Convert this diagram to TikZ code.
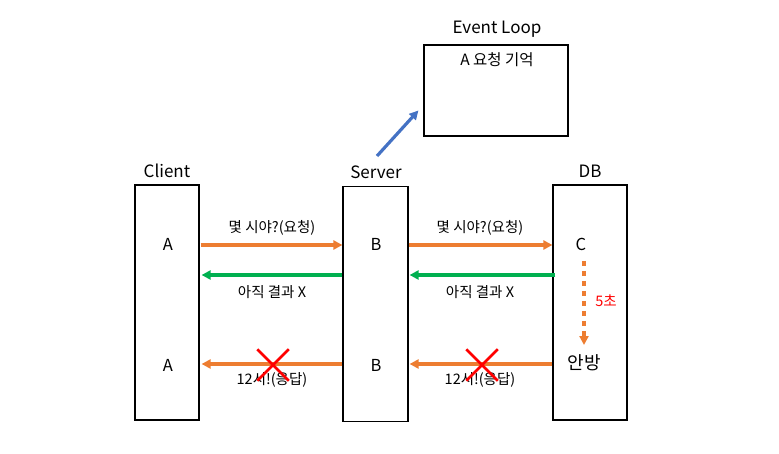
\documentclass[tikz,border=0pt]{standalone}
\usepackage{fontspec}
\setmainfont{Noto Sans CJK KR}
\usepackage{tikz}
\usetikzlibrary{arrows.meta, positioning, shapes.misc}
\definecolor{reqorange}{HTML}{ED7D31}
\definecolor{ansgreen}{HTML}{00B050}
\definecolor{loopblue}{HTML}{4472C4}

\begin{document}
\begin{tikzpicture}[
	x=1pt, y=-1pt,
	font=\fontsize{14.5}{17}\selectfont,
	lane/.style={draw, line width=1.2pt, minimum width=65pt, minimum height=235pt, inner sep=0pt},
	loopbox/.style={draw, line width=1.2pt, minimum width=144pt, minimum height=91pt, inner sep=0pt},
	title/.style={font=\fontsize{17}{20}\selectfont},
	item/.style={font=\fontsize{16.5}{19}\selectfont},
	msg/.style={font=\fontsize{14.5}{17}\selectfont},
	request/.style={-{Triangle[length=9pt, width=9pt]}, line width=3.2pt, reqorange},
	answer/.style={-{Triangle[length=9pt, width=9pt]}, line width=3.2pt, ansgreen},
	wait/.style={-{Triangle[length=9pt, width=9pt]}, line width=3.2pt, reqorange, dash pattern=on 5pt off 5pt},
	fail/.style={cross out, draw=red, line width=2.5pt, minimum width=29pt, minimum height=29pt, inner sep=0pt}
]
\useasboundingbox (0,0) rectangle (779,454);

% boxes
\node[lane, minimum width=64pt] (client) at (167,302.5) {};
\node[lane] (server) at (375.5,304) {};
\node[lane, minimum width=74pt] (db) at (590,302.5) {};
\node[loopbox] (loop) at (496,90.5) {};

% titles
\node[title] (clienttitle) at (167,171) {Client};
\node[title] (servertitle) at (376,172) {Server};
\node[title] (dbtitle) at (590,171) {DB};
\node[title] (looptitle) at (497,29) {Event Loop};
\node[font=\fontsize{15.5}{18}\selectfont] (memo) at (497,60) {A 요청 기억};

% items in the lanes
\node[item] (a1) at (168,244) {A};
\node[item] (b1) at (376,244) {B};
\node[item] (c1) at (581,244) {C};
\node[item] (a2) at (168,365) {A};
\node[item] (b2) at (376,365) {B};
\node[font=\fontsize{18}{21}\selectfont] (room) at (584,363) {안방};

% request
\draw[request] ([xshift=1pt]client.east |- 0,245) -- (server.west |- 0,245);
\draw[request] (server.east |- 0,245) -- (db.west |- 0,245);
\node[msg] (ask1) at (272,228) {몇 시야?(요청)};
\node[msg] (ask2) at (480,228) {몇 시야?(요청)};

% not yet
\draw[answer] (server.west |- 0,275) -- ([xshift=2pt]client.east |- 0,275);
\draw[answer] ([xshift=3pt]db.west |- 0,275) -- ([xshift=1pt]server.east |- 0,275);
\node[msg] (wait1) at (272,292) {아직 결과 X};
\node[msg] (wait2) at (480,292) {아직 결과 X};

% DB takes 5 s
\draw[wait] (room.north |- 0,261) -- (room.north |- 0,345);
\node[msg, text=red] (delay) at (606,301) {5초};

% response, lost
\draw[request] (server.west |- 0,364) -- ([xshift=2pt]client.east |- 0,364);
\draw[request] (db.west |- 0,364) -- ([xshift=1pt]server.east |- 0,364);
\node[msg] (reply1) at (272,380) {12시!(응답)};
\node[msg] (reply2) at (480,380) {12시!(응답)};
\node[fail] (cross1) at (273,365) {};
\node[fail] (cross2) at (482,365) {};

% server hands A to the event loop
\coordinate (handoff) at (377,156);
\draw[-{Triangle[length=9pt, width=9pt]}, line width=3.2pt, loopblue] (handoff) -- ([xshift=-5pt, yshift=-20pt]loop.west);

\end{tikzpicture}
\end{document}
